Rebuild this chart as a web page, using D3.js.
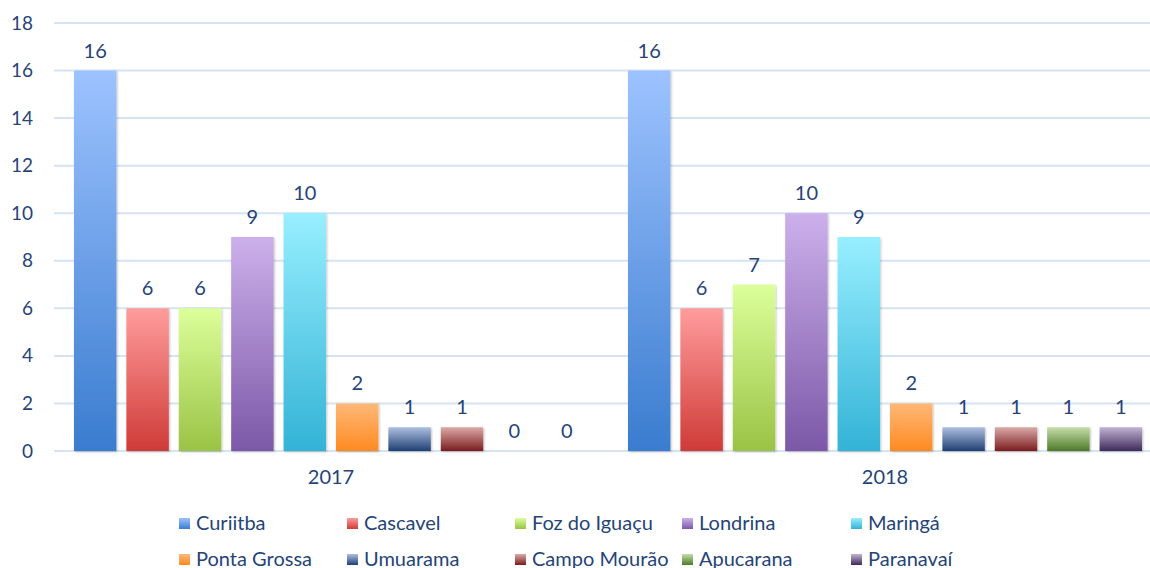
<!DOCTYPE html>
<html><head><meta charset="utf-8">
<script src="https://cdn.jsdelivr.net/npm/d3@7/dist/d3.min.js"></script>
<style>body{margin:0;background:#fff;}svg{display:block;}</style>
</head><body><svg id="c" width="1150" height="568"></svg>
<script>
const years = ["2017", "2018"];
const cities = ["Curiitba", "Cascavel", "Foz do Iguaçu", "Londrina", "Maringá", "Ponta Grossa", "Umuarama", "Campo Mourão", "Apucarana", "Paranavaí"];
const values2017 = [16, 6, 6, 9, 10, 2, 1, 1, 0, 0];
const values2018 = [16, 6, 7, 10, 9, 2, 1, 1, 1, 1];
const yTicks = [0, 2, 4, 6, 8, 10, 12, 14, 16, 18];
const topColors = ["#9DC3FF", "#FF9C9C", "#DCFF9A", "#CCB0EB", "#97EFFF", "#FFB878", "#AFC0E0", "#DBAAA9", "#C6DDAA", "#C2B3D4"];
const bottomColors = ["#3A7CCF", "#CF3B37", "#9AC345", "#7C58A7", "#33B3D6", "#FF8A20", "#1E3F74", "#7A1C1C", "#4E7A27", "#3E2A5A"];

const seriesByYear = [values2017, values2018];
const FONT = "Lato, 'Open Sans', sans-serif";
const TXT = "#264478";
const svg = d3.select("#c");
const x0 = d3.scaleBand().domain(years).range([54, 1162]).paddingInner(0).paddingOuter(0);
const x1 = d3.scaleBand().domain(cities).range([15, x0.bandwidth() - 15]).paddingInner(0.19).paddingOuter(0.095);
const y = d3.scaleLinear().domain([0, 18]).range([451, 23]);

const defs = svg.append("defs");
cities.forEach((c, i) => {
  const g = defs.append("linearGradient").attr("id", "g" + i).attr("x1", 0).attr("y1", 0).attr("x2", 0).attr("y2", 1);
  g.append("stop").attr("offset", "0%").attr("stop-color", topColors[i]);
  g.append("stop").attr("offset", "100%").attr("stop-color", bottomColors[i]);
});
const f = defs.append("filter").attr("id", "sh").attr("x", "-20%").attr("y", "-20%").attr("width", "140%").attr("height", "140%");
f.append("feDropShadow").attr("dx", 1).attr("dy", 1).attr("stdDeviation", 1.2).attr("flood-color", "#000").attr("flood-opacity", 0.25);

// gridlines
svg.append("g").selectAll("line").data(yTicks).join("line")
  .attr("x1", 54).attr("x2", 1150).attr("y1", d => y(d)).attr("y2", d => y(d))
  .attr("stroke", "#D6E3F3").attr("stroke-width", 2);

// y axis labels
const yAxis = d3.axisLeft(y).tickValues(yTicks).tickSize(0).tickPadding(0);
const ya = svg.append("g").attr("transform", "translate(33,0)").call(yAxis);
ya.select(".domain").remove();
ya.selectAll("text").attr("font-family", FONT).attr("font-size", 19).attr("fill", TXT).attr("text-anchor", "end");

// x axis labels
const xAxis = d3.axisBottom(x0).tickSize(0).tickPadding(19);
const xa = svg.append("g").attr("transform", "translate(0,451)").call(xAxis);
xa.select(".domain").remove();
xa.selectAll("text").attr("font-family", FONT).attr("font-size", 20).attr("fill", TXT);

// bars
years.forEach((yr, yi) => {
  const g = svg.append("g").attr("transform", `translate(${x0(yr)},0)`);
  const data = cities.map((c, i) => ({c, i, v: seriesByYear[yi][i]}));
  g.selectAll("rect").data(data.filter(d => d.v > 0)).join("rect")
    .attr("x", d => x1(d.c)).attr("width", x1.bandwidth())
    .attr("y", d => y(d.v)).attr("height", d => y(0) - y(d.v))
    .attr("fill", d => `url(#g${d.i})`).attr("filter", "url(#sh)");
  g.selectAll("text").data(data).join("text")
    .attr("x", d => x1(d.c) + x1.bandwidth() / 2).attr("y", d => y(d.v) - 13)
    .attr("text-anchor", "middle")
    .attr("font-family", FONT).attr("font-size", 20).attr("fill", TXT)
    .text(d => d.v);
});

// legend
const legX = [179, 347, 515, 682, 851];
const legY = [523, 559];
const lg = svg.append("g");
cities.forEach((c, i) => {
  const lx = legX[i % 5], ly = legY[Math.floor(i / 5)];
  lg.append("rect").attr("x", lx).attr("y", ly - 5).attr("width", 11).attr("height", 11).attr("fill", `url(#g${i})`);
  lg.append("text").attr("x", lx + 17).attr("y", ly).attr("dy", "0.35em")
    .attr("font-family", FONT).attr("font-size", 20).attr("fill", TXT).text(c);
});
</script></body></html>
